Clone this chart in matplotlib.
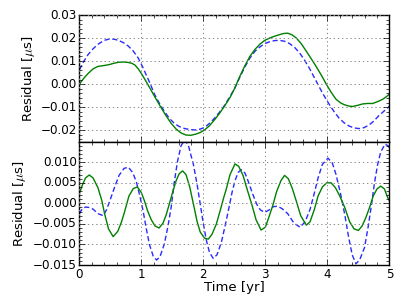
import matplotlib
matplotlib.use('Agg')
import matplotlib.pyplot as plt
from matplotlib.ticker import MultipleLocator

# =============================================================================
# Dados
# =============================================================================
# painel superior - curva verde (continua)
t_sup_verde = [0.00, 0.07, 0.14, 0.22, 0.30, 0.38, 0.47, 0.55, 0.63, 0.71, 0.79, 0.85, 0.90, 0.95,
               1.00, 1.08, 1.16, 1.24, 1.32, 1.40, 1.48, 1.56, 1.64, 1.72, 1.80, 1.88, 1.95,
               2.02, 2.10, 2.18, 2.26, 2.34, 2.43, 2.50, 2.59, 2.67, 2.75, 2.83, 2.91, 2.99,
               3.07, 3.15, 3.23, 3.30, 3.36, 3.43, 3.50, 3.58, 3.66, 3.74, 3.82, 3.90, 3.98,
               4.06, 4.14, 4.21, 4.27, 4.34, 4.41, 4.49, 4.57, 4.65, 4.73, 4.81, 4.89, 4.95, 5.00]
v_sup_verde = [0.0000, 0.0025, 0.0046, 0.0066, 0.0077, 0.0080, 0.0084, 0.0090, 0.0095, 0.0096, 0.0094, 0.0090, 0.0082, 0.0066,
               0.0046, 0.0010, -0.0028, -0.0066, -0.0103, -0.0138, -0.0170, -0.0195, -0.0212, -0.0221, -0.0222, -0.0217, -0.0210,
               -0.0199, -0.0180, -0.0155, -0.0127, -0.0096, -0.0058, -0.0021, 0.0035, 0.0080, 0.0120, 0.0150, 0.0173, 0.0190,
               0.0200, 0.0208, 0.0215, 0.0220, 0.0221, 0.0214, 0.0200, 0.0175, 0.0143, 0.0110, 0.0076, 0.0040, 0.0001,
               -0.0035, -0.0066, -0.0081, -0.0089, -0.0095, -0.0097, -0.0092, -0.0086, -0.0084, -0.0084, -0.0076, -0.0066, -0.0055, -0.0043]

# painel superior - curva azul (tracejada)
t_sup_azul = [0.00, 0.07, 0.14, 0.22, 0.30, 0.40, 0.49, 0.56, 0.63, 0.71, 0.79, 0.87, 0.95,
              1.02, 1.08, 1.15, 1.21, 1.29, 1.37, 1.45, 1.53, 1.61, 1.70, 1.78, 1.86, 1.94,
              2.02, 2.10, 2.18, 2.26, 2.34, 2.42, 2.50, 2.59, 2.67, 2.75, 2.83, 2.91, 2.99,
              3.07, 3.15, 3.23, 3.31, 3.39, 3.47, 3.55, 3.63, 3.71, 3.79, 3.87, 3.95,
              4.03, 4.11, 4.19, 4.27, 4.35, 4.43, 4.51, 4.59, 4.67, 4.75, 4.83, 4.91, 5.00]
v_sup_azul = [0.0062, 0.0098, 0.0128, 0.0153, 0.0173, 0.0190, 0.0196, 0.0195, 0.0190, 0.0180, 0.0165, 0.0143, 0.0113,
              0.0075, 0.0039, -0.0003, -0.0043, -0.0083, -0.0118, -0.0148, -0.0170, -0.0184, -0.0193, -0.0197, -0.0199, -0.0196,
              -0.0188, -0.0170, -0.0148, -0.0122, -0.0093, -0.0058, -0.0021, 0.0031, 0.0075, 0.0113, 0.0142, 0.0161, 0.0176,
              0.0184, 0.0189, 0.0190, 0.0186, 0.0176, 0.0160, 0.0136, 0.0105, 0.0069, 0.0028, -0.0013, -0.0052,
              -0.0088, -0.0120, -0.0148, -0.0168, -0.0182, -0.0190, -0.0193, -0.0189, -0.0178, -0.0160, -0.0137, -0.0118, -0.0096]

# painel inferior - curva verde
t_inf_verde = [0.00, 0.05, 0.10, 0.16, 0.22, 0.30, 0.36, 0.41, 0.47, 0.545, 0.62, 0.68, 0.73, 0.80, 0.87, 0.935,
               1.00, 1.05, 1.10, 1.16, 1.22, 1.285, 1.35, 1.40, 1.45, 1.51, 1.56, 1.61, 1.665, 1.72, 1.78, 1.84, 1.90, 1.95,
               2.02, 2.08, 2.14, 2.21, 2.27, 2.33, 2.37, 2.43, 2.51, 2.57, 2.64, 2.71, 2.78, 2.85, 2.93,
               3.00, 3.06, 3.12, 3.18, 3.25, 3.31, 3.37, 3.43, 3.50, 3.57, 3.66, 3.72, 3.79, 3.85, 3.92, 3.99,
               4.06, 4.13, 4.20, 4.28, 4.36, 4.43, 4.50, 4.56, 4.62, 4.68, 4.74, 4.80, 4.86, 4.92, 4.97, 5.00]
v_inf_verde = [0.0024, 0.0045, 0.0062, 0.0069, 0.0062, 0.0038, 0.0008, -0.0027, -0.0062, -0.0081, -0.0068, -0.0045, -0.0020, 0.0018, 0.0036, 0.0040,
               0.0026, 0.0006, -0.0018, -0.0040, -0.0055, -0.0060, -0.0048, -0.0028, -0.0002, 0.0030, 0.0055, 0.0072, 0.0079, 0.0070, 0.0040, -0.0002, -0.0045, -0.0070,
               -0.0085, -0.0087, -0.0075, -0.0050, -0.0018, 0.0015, 0.0035, 0.0070, 0.0096, 0.0090, 0.0068, 0.0032, -0.0002, -0.0040, -0.0065,
               -0.0058, -0.0032, -0.0005, 0.0028, 0.0055, 0.0068, 0.0060, 0.0038, 0.0005, -0.0030, -0.0053, -0.0045, -0.0015, 0.0018, 0.0040, 0.0050,
               0.0050, 0.0038, 0.0018, -0.0010, -0.0045, -0.0062, -0.0066, -0.0055, -0.0035, -0.0010, 0.0018, 0.0035, 0.0042, 0.0035, 0.0015, 0.0006]

# painel inferior - curva azul
t_inf_azul = [0.00, 0.05, 0.10, 0.16, 0.22, 0.30, 0.385, 0.44, 0.50, 0.57, 0.64, 0.72, 0.79, 0.86, 0.92, 0.98,
              1.03, 1.08, 1.13, 1.19, 1.245, 1.30, 1.37, 1.43, 1.48, 1.53, 1.58, 1.64, 1.70, 1.76, 1.84, 1.90, 1.95,
              2.00, 2.05, 2.10, 2.16, 2.22, 2.29, 2.35, 2.40, 2.46, 2.51, 2.56, 2.61, 2.67, 2.72, 2.79, 2.86, 2.92, 2.99,
              3.06, 3.13, 3.20, 3.27, 3.36, 3.46, 3.56, 3.64, 3.72, 3.79, 3.85, 3.92,
              4.01, 4.08, 4.14, 4.21, 4.28, 4.34, 4.40, 4.46, 4.52, 4.60, 4.66, 4.71, 4.76, 4.81, 4.86, 4.93, 4.98, 5.00]
v_inf_azul = [-0.0025, -0.0013, -0.0009, -0.0010, -0.0014, -0.0025, -0.0030, -0.0015, 0.0010, 0.0040, 0.0068, 0.0085, 0.0088, 0.0075, 0.0052, 0.0015,
              -0.0020, -0.0062, -0.0100, -0.0128, -0.0138, -0.0130, -0.0099, -0.0055, -0.0010, 0.0050, 0.0100, 0.0140, 0.0155, 0.0140, 0.0094, 0.0045, -0.0002,
              -0.0050, -0.0091, -0.0120, -0.0134, -0.0125, -0.0095, -0.0055, -0.0020, 0.0025, 0.0055, 0.0075, 0.0082, 0.0074, 0.0055, 0.0025, -0.0002, -0.0016, -0.0022,
              -0.0016, -0.0008, -0.0007, -0.0013, -0.0025, -0.0048, -0.0058, -0.0045, -0.0015, 0.0025, 0.0062, 0.0095,
              0.0110, 0.0098, 0.0070, 0.0025, -0.0027, -0.0080, -0.0125, -0.0147, -0.0138, -0.0107, -0.0055, -0.0005, 0.0050, 0.0094, 0.0125, 0.0144, 0.0140, 0.0135]

# =============================================================================
# Grafico
# =============================================================================
plt.style.use('classic')
plt.rcParams['font.size'] = 9.5
plt.rcParams['xtick.labelsize'] = 8.6
plt.rcParams['ytick.labelsize'] = 8.6
plt.rcParams['xtick.major.pad'] = 2.5
plt.rcParams['ytick.major.pad'] = 1.8

fig = plt.figure(figsize=(4.07, 3.07), dpi=100, facecolor='white')
ax1 = fig.add_axes([0.195, 0.5384, 0.7617, 0.4127])
ax2 = fig.add_axes([0.195, 0.1368, 0.7617, 0.4016], sharex=ax1)

tracejado = (3.7, 2.0)
ax1.plot(t_sup_azul, v_sup_azul, color='#2a2aff', linestyle='--', dashes=tracejado, linewidth=1.0)
ax1.plot(t_sup_verde, v_sup_verde, 'g-', linewidth=1.0)
ax2.plot(t_inf_azul, v_inf_azul, color='#2a2aff', linestyle='--', dashes=tracejado, linewidth=1.0)
ax2.plot(t_inf_verde, v_inf_verde, 'g-', linewidth=1.0)

ax1.set_xlim(0, 5)
ax1.set_ylim(-0.025, 0.03)
ax1.set_yticks([-0.02, -0.01, 0.0, 0.01, 0.02, 0.03])
ax1.yaxis.set_minor_locator(MultipleLocator(0.002))
ax2.set_ylim(-0.015, 0.015)
ax2.set_yticks([-0.015, -0.010, -0.005, 0.0, 0.005, 0.010])
ax2.yaxis.set_minor_locator(MultipleLocator(0.001))
ax2.xaxis.set_minor_locator(MultipleLocator(0.2))
ax2.set_xticks([0, 1, 2, 3, 4, 5])
plt.setp(ax1.get_xticklabels(), visible=False)

for ax in (ax1, ax2):
    ax.grid(True, color='0.55', linestyle=(0, (1, 2)), linewidth=0.7)
    ax.set_ylabel(r'Residual [$\mu$s]')
ax1.yaxis.set_label_coords(-0.137, 0.5)
ax2.yaxis.set_label_coords(-0.167, 0.5)
ax2.set_xlabel('Time [yr]', labelpad=0)

fig.savefig('out.png', dpi=100, facecolor='white')
